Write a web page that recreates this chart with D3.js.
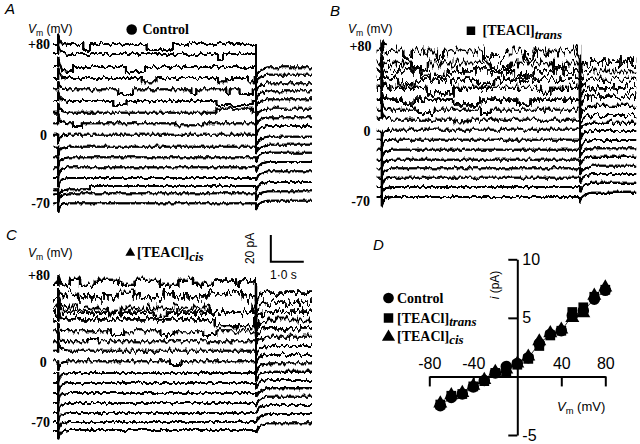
<!DOCTYPE html>
<html>
<head>
<meta charset="utf-8">
<script src="https://d3js.org/d3.v7.min.js"></script>
<style>
body { margin: 0; background: #fff; }
.sans { font-family: "Liberation Sans", Arial, sans-serif; }
.serif { font-family: "Liberation Serif", "Times New Roman", serif; font-weight: bold; }
</style>
</head>
<body>
<script>
// Test potentials, one trace per step (top to bottom)
const voltages = [80, 70, 60, 50, 40, 30, 20, 10, 0, -10, -20, -30, -40, -50, -60, -70];

// Current levels (pA, as displayed with offsets) during the 6 s pulse and after it
const pulseA = [124.5, 117, 107.3, 99, 90.4, 81.8, 73.1, 64.9, 56.6, 47.5, 39.4, 32, 24, 18, 12.4, 5];
const tailA  = [107, 101.5, 95, 89, 83, 76, 69.5, 63, 55, 49, 43, 36, 29, 21, 14, 7];
const noiseA = [2.5, 2.5, 2.5, 2.5, 2.5, 2.5, 2.2, 2.2, 2, 1.8, 1.6, 1.6, 1.6, 1.6, 1.6, 1.6];
// gating events: [voltage, start s, end s, change pA]
const eventsA = [
  [80, 0.76, 0.96, -4.5], [80, 2.68, 3.48, -4.5],
  [70, 4.85, 5.0, -4.5],
  [60, 0.1, 0.45, -3.8], [60, 2.05, 2.63, -3.8],
  [50, 2.53, 2.98, -3.3], [50, 4.85, 5.1, -3.3], [50, 5.76, 5.96, -3.3],
  [40, 1.82, 2.27, -3.3], [40, 4.04, 4.19, -3.3], [40, 5.1, 5.2, -3.3], [40, 5.5, 5.9, -3.3],
  [30, 1.67, 2.07, -3], [30, 4.8, 5.9, -3],
  [20, 4.8, 5.9, 3],
  [10, 0.45, 0.71, -2], [10, 3.55, 4.4, -1.5],
  [-50, 0, 0.96, -2.5]
];

const pulseB = [115.5, 106.5, 100.3, 94, 87.8, 79, 71.5, 64, 56.5, 49, 41.5, 34, 27.4, 20.6, 13.5, 6];
const tailB  = [107.5, 100.5, 93.8, 87.5, 81.2, 74.3, 67.5, 61.7, 55.5, 48.8, 42.5, 36.2, 29.5, 23.3, 16.7, 9.2];
const noiseB = [7, 6, 6, 5.5, 5, 4, 3.5, 3, 2.5, 2, 1.8, 1.8, 1.8, 1.8, 1.8, 1.8];
const eventsB = [
  [80, 0.65, 0.91, -5], [80, 1.67, 1.87, -5], [80, 3.08, 3.79, -5], [80, 4.3, 4.6, -4],
  [70, 0.9, 1.4, -4], [70, 3.3, 3.9, -3.5], [70, 5.2, 5.5, -4],
  [60, 1.2, 2.0, -3.5], [60, 4.0, 4.6, -3],
  [50, 0.5, 1.0, -3.5], [50, 2.9, 3.4, -3],
  [40, 1.36, 2.17, -4], [40, 4.8, 5.1, -3],
  [30, 0.6, 1.0, -3], [30, 2.16, 2.98, -3.5], [30, 4.1, 4.5, -3],
  [20, 1.1, 1.6, -2.5], [20, 3.0, 3.3, -2.5],
  [10, 2.2, 2.6, -2]
];

const pulseC = [113.3, 103.9, 96, 92.6, 87.4, 78.4, 70.9, 64.1, 56, 47.3, 39.8, 32.3, 24.8, 17.3, 10.5, 4.5];
const tailC  = [107.5, 100, 93.2, 87, 80.8, 74.5, 67.5, 60.8, 54.5, 48.2, 42, 35.8, 29.5, 23.3, 16.5, 9.5];
const noiseC = [4, 6, 5.5, 4.5, 4, 3.5, 3, 3, 2.5, 2, 1.8, 1.8, 1.8, 1.8, 1.8, 1.8];
const eventsC = [
  [80, 0.35, 0.66, 3.8], [80, 1.11, 1.82, 3.8], [80, 2.32, 3.08, 3.8], [80, 3.64, 4.09, 3.8],
  [80, 4.69, 5.4, 2.5], [80, 5.5, 5.96, 3.5],
  [70, 0.2, 0.6, 3.5], [70, 1.8, 2.3, 3.5], [70, 3.2, 3.5, 3], [70, 4.5, 5.6, 3],
  [60, 1.5, 1.9, -3], [60, 4.6, 5.9, -3.5],
  [50, 2.9, 3.3, -2.5],
  [40, 4.75, 5.95, -5],
  [30, 1.6, 2.0, -2.5], [30, 3.1, 3.5, -2.5], [30, 4.4, 4.8, -2.5],
  [20, 0.9, 1.2, 2],
  [0, 3.39, 3.74, -2]
];

// capacitive transients at pulse on / off: [s after edge, pA]
const onTransient  = [[0, 7], [0.04, 3], [0.12, 1], [0.3, 0]];
const offTransient = [[0, -7], [0.07, -3], [0.18, -1], [0.35, 0]];

// Panel D: single-channel i-V relation
const ivVoltage = [-70, -60, -50, -40, -30, -20, -10, 0, 10, 20, 30, 40, 50, 60, 70, 80];
const ivControl = [-2.5, -1.8, -1.5, -0.9, -0.35, 0.3, 0.85, 1.1, 1.6, 2.8, 3.6, 3.9, 5.2, 5.6, 6.6, 7.35];
const ivTrans   = [-2.4, -1.65, -1.5, -0.85, -0.4, 0.3, 0.4, 1.0, 1.5, 2.6, 3.5, 3.9, 5.5, 5.9, 6.8, 7.4];
const ivCis     = [-2.3, -1.6, -1.4, -0.8, -0.3, 0.4, 0.6, 1.1, 1.7, 3.0, 3.7, 4.0, 5.0, 5.4, 6.9, 7.6];

const pxPerPA = 80 / 3 / 20;   // 20 pA scale bar

let svg = d3.select("body").append("svg")
    .attr("width", 640)
    .attr("height", 444);
let defs = svg.append("defs");

// jitter each trace vertically so it looks like a noisy recording
let filterIds = new Set();
function noiseFilter(n) {
  let s = Math.round(n * pxPerPA * 2.2 * 2) / 2;
  let id = "noise" + String(s).replace(".", "_");
  if (!filterIds.has(id)) {
    let f = defs.append("filter").attr("id", id)
      .attr("filterUnits", "userSpaceOnUse")
      .attr("x", 0).attr("y", 0).attr("width", 640).attr("height", 444)
      .attr("color-interpolation-filters", "sRGB");
    f.append("feTurbulence").attr("type", "fractalNoise")
      .attr("baseFrequency", "0.32 0.08").attr("numOctaves", 2).attr("seed", 5).attr("result", "t");
    f.append("feColorMatrix").attr("in", "t").attr("type", "matrix")
      .attr("values", "0 0 0 0 0.5  0 1 0 0 0  0 0 0 0 0  0 0 0 0 1").attr("result", "m");
    f.append("feDisplacementMap").attr("in", "SourceGraphic").attr("in2", "m")
      .attr("scale", s).attr("xChannelSelector", "R").attr("yChannelSelector", "G").attr("result", "d");
    f.append("feComponentTransfer").attr("in", "d")
      .append("feFuncA").attr("type", "linear").attr("slope", 1.7);
    filterIds.add(id);
  }
  return id;
}

function tracePoints(level, tail, evs, sign) {
  let at = t => level + d3.sum(evs, e => (t >= e[1] && t < e[2]) ? e[3] : 0);
  let pts = [[-0.15, at(0)], [0, at(0)]];
  onTransient.forEach(([dt, dv]) => pts.push([dt, at(dt) + sign * dv]));
  let breaks = [...new Set(evs.flatMap(e => [e[1], e[2]]))]
    .filter(t => t > 0.3 && t < 6).sort((a, b) => a - b);
  breaks.forEach(b => pts.push([b, at(b - 1e-6)], [b, at(b)]));
  pts.push([6, at(6 - 1e-6)]);
  offTransient.forEach(([dt, dv]) => pts.push([6 + dt, tail + dv]));
  pts.push([7.7, tail]);
  return pts;
}

// Vm (mV) label with italic V and subscript m
function vmLabel(g, x, y, size) {
  let t = g.append("text").attr("class", "sans").attr("x", x).attr("y", y).style("font-size", size + "px");
  t.append("tspan").style("font-style", "italic").text("V");
  t.append("tspan").attr("dy", 3).style("font-size", (size * 0.72) + "px").text("m");
  t.append("tspan").attr("dy", -3).text(" (mV)");
}

function teaLabel(g, x, y, sub) {
  let t = g.append("text").attr("class", "serif").attr("x", x).attr("y", y).style("font-size", "14px");
  t.append("tspan").text("[TEACl]");
  t.append("tspan").attr("dy", 3.5).style("font-style", "italic").style("font-size", "13px").text(sub);
}

function drawPanel(p) {
  let g = svg.append("g");
  let x = d3.scaleLinear().domain([0, 6]).range(p.xr);
  let y = d3.scaleLinear().domain([0, 130]).range([p.y0, p.y0 - 130 * pxPerPA]);
  let line = d3.line().x(d => x(d[0])).y(d => y(d[1]));

  voltages.forEach((v, i) => {
    let evs = p.events.filter(e => e[0] === v);
    g.append("path")
      .attr("d", line(tracePoints(p.pulse[i], p.tail[i], evs, v > 0 ? 1 : -1)))
      .attr("fill", "none")
      .attr("stroke", "#000")
      .attr("stroke-width", p.noise[i] >= 4 ? 2.3 : 1.8)
      .attr("filter", "url(#" + noiseFilter(p.noise[i]) + ")");
  });

  g.append("text").attr("class", "sans").attr("x", p.letter[0]).attr("y", p.letter[1])
    .style("font-size", "15px").style("font-style", "italic").text(p.name);
  vmLabel(g, p.vm[0], p.vm[1], 12);
  p.ticks.forEach(d => {
    g.append("text").attr("class", "serif").attr("x", d[0]).attr("y", d[1])
      .attr("text-anchor", "end").style("font-size", "14px").text(d[2]);
  });
  return { g, x, y };
}

// Panel A
let A = drawPanel({ name: "A", xr: [58.3, 256], y0: 210, pulse: pulseA, tail: tailA, noise: noiseA, events: eventsA,
  letter: [5, 14], vm: [28, 33], ticks: [[50, 48.5, "+80"], [47, 139.5, "0"], [50, 208, "-70"]] });
A.g.append("circle").attr("cx", 131.7).attr("cy", 29.5).attr("r", 5.3);
A.g.append("text").attr("class", "serif").attr("x", 142.5).attr("y", 34).style("font-size", "14px").text("Control");

// Panel B
let B = drawPanel({ name: "B", xr: [381.7, 580], y0: 205, pulse: pulseB, tail: tailB, noise: noiseB, events: eventsB,
  letter: [330, 16], vm: [348, 33], ticks: [[371.5, 50.5, "+80"], [370.5, 135.5, "0"], [370, 205.5, "-70"]] });
B.g.append("rect").attr("x", 466.7).attr("y", 26.5).attr("width", 8.5).attr("height", 8.5);
teaLabel(B.g, 482.5, 35, "trans");

// Panel C
let C = drawPanel({ name: "C", xr: [58.3, 256], y0: 436, pulse: pulseC, tail: tailC, noise: noiseC, events: eventsC,
  letter: [6, 240], vm: [28, 257], ticks: [[50, 280, "+80"], [46.7, 367, "0"], [50, 427, "-70"]] });
C.g.append("path").attr("d", d3.symbol().type(d3.symbolTriangle).size(42)())
  .attr("transform", "translate(130.3,253)");
teaLabel(C.g, 137, 257, "cis");

// scale bar: 20 pA, 1.0 s
let sbT = 6.45, sbI = 130.7;
C.g.append("path")
  .attr("d", `M${C.x(sbT)},${C.y(sbI + 20)}V${C.y(sbI)}H${C.x(sbT + 1)}`)
  .attr("fill", "none").attr("stroke", "#000").attr("stroke-width", 2);
C.g.append("text").attr("class", "sans").attr("transform", `translate(254,${C.y(sbI + 10)}) rotate(-90)`)
  .attr("text-anchor", "middle").style("font-size", "12px").text("20 pA");
C.g.append("text").attr("class", "sans").attr("x", 270).attr("y", 278.5)
  .style("font-size", "12px").text("1\u00b70 s");

// Panel D
let gD = svg.append("g");
let xD = d3.scaleLinear().domain([-80, 80]).range([429.3, 605.3]);
let yD = d3.scaleLinear().domain([-5, 10]).range([435, 259.3]);

gD.append("text").attr("class", "sans").attr("x", 373).attr("y", 250)
  .style("font-size", "15px").style("font-style", "italic").text("D");

let ivLine = d3.line().x((d, i) => xD(ivVoltage[i])).y(d => yD(d));
gD.append("path").attr("d", ivLine(ivControl)).attr("fill", "none")
  .attr("stroke", "#000").attr("stroke-width", 0.8);

let xAxis = gD.append("g").attr("transform", `translate(0,${yD(0)})`)
  .call(d3.axisTop(xD).tickValues([-80, -40, 40, 80]).tickSizeInner(-10).tickSizeOuter(0)
    .tickPadding(7).tickFormat(d => String(d)));
let yAxis = gD.append("g").attr("transform", `translate(${xD(0)},0)`)
  .call(d3.axisRight(yD).tickValues([10, 5, -5]).tickSizeInner(-9).tickSizeOuter(0)
    .tickPadding(5).tickFormat(d => String(d)));
[xAxis, yAxis].forEach(a => {
  a.selectAll("path, line").attr("stroke", "#000").attr("stroke-width", 2);
  a.selectAll("text").attr("class", "sans").style("font-size", "16px").attr("fill", "#000");
  a.attr("font-family", null).attr("font-size", null);
});

let series = [
  { vals: ivControl, type: d3.symbolCircle, size: 105 },
  { vals: ivTrans, type: d3.symbolSquare, size: 95 },
  { vals: ivCis, type: d3.symbolTriangle, size: 85 }
];
series.forEach(s => {
  gD.selectAll(null).data(s.vals).join("path")
    .attr("d", d3.symbol().type(s.type).size(s.size)())
    .attr("transform", (d, i) => `translate(${xD(ivVoltage[i])},${yD(d)})`)
    .attr("fill", "#000");
});

// legend
gD.append("path").attr("d", d3.symbol().type(d3.symbolCircle).size(90)()).attr("transform", "translate(388.5,298)");
gD.append("text").attr("class", "serif").attr("x", 397).attr("y", 303).style("font-size", "14px").text("Control");
gD.append("path").attr("d", d3.symbol().type(d3.symbolSquare).size(90)()).attr("transform", "translate(388.5,318)");
teaLabel(gD, 397, 322.5, "trans");
gD.append("path").attr("d", d3.symbol().type(d3.symbolTriangle).size(75)()).attr("transform", "translate(388.5,337)");
teaLabel(gD, 397, 340.5, "cis");

// axis titles
let iLab = gD.append("text").attr("class", "sans").attr("transform", "translate(499,285) rotate(-90)")
  .attr("text-anchor", "middle").style("font-size", "12px");
iLab.append("tspan").style("font-style", "italic").text("i");
iLab.append("tspan").text(" (pA)");
vmLabel(gD, 557, 411, 13);
</script>
</body>
</html>
